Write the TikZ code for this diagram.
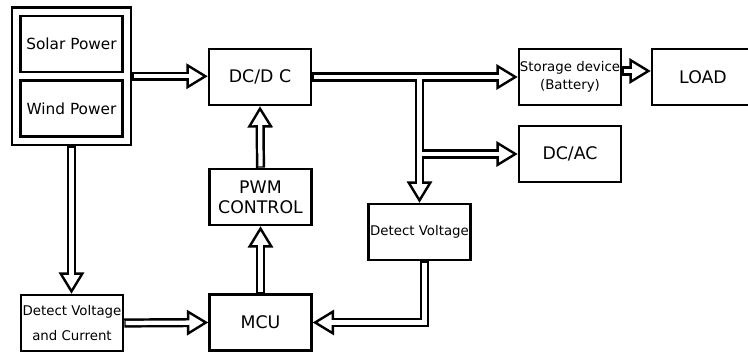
\documentclass[tikz,border=0pt]{standalone}
\usepackage{fontspec}
\setmainfont{DejaVu Sans}
\usetikzlibrary{arrows.meta,positioning,calc,fit}

\begin{document}
\begin{tikzpicture}[
    x=0.75pt, y=-0.75pt,
    block/.style={rectangle, draw, line width=1.9pt, minimum width=76.5pt, minimum height=42pt, inner sep=0pt, align=center, font=\fontsize{13}{15}\selectfont},
    small/.style={block, font=\fontsize{10}{13.5}\selectfont},
    src/.style={block, font=\fontsize{11.5}{13.5}\selectfont},
    pipe/.style={draw, line width=6.9pt, -{Triangle[open, length=16pt, width=19pt, line width=1.8pt]}},
    pipein/.style={draw=white, line width=3.2pt, shorten <=1.1pt, shorten >=12pt}
]
\clip (0,0) rectangle (748,352);

% Sources
\node[src] (solar) at (71.5,44) {Solar Power};
\node[src] (wind) at (71.5,108.5) {Wind Power};
\node[draw, line width=1.9pt, inner sep=5.5pt, fit=(solar)(wind)] (source) {};

% Power path
\node[block] (dcdc) at (260,77) {DC/D C};
\node[small] (store) at (570,77) {Storage device\\(Battery)};
\node[block] (load) at (703,77) {LOAD};
\node[block] (dcac) at (570,154) {DC/AC};

% Control path
\node[block] (pwm) at (260.5,197) {PWM\\CONTROL};
\node[block] (mcu) at (260.5,322.5) {MCU};
\node[small] (dv) at (419.5,232) {Detect Voltage};
\node[small, font=\fontsize{10}{18.75}\selectfont] (dvc) at (72,323) {Detect Voltage\\and Current};

% Branch points
\coordinate (j1) at (dv.north |- dcdc.east);
\coordinate (j2) at (j1 |- dcac.west);

% Arrows: outline first, then the hollow inside
\foreach \pass in {pipe,pipein}{
  \draw[\pass] (source.east) -- (source.east -| dcdc.west);
  \draw[\pass] (dcdc.east) -- (store.west);
  \draw[\pass] (j1) -- (dv.north);
  \draw[\pass] (j2) -- (dcac.west);
  \draw[\pass] ([yshift=4.5pt]store.east) -- ([yshift=4.5pt]load.west);
  \draw[\pass] (pwm.north) -- (dcdc.south);
  \draw[\pass] (mcu.north) -- (pwm.south);
  \draw[\pass] (source.south) -- (source.south |- dvc.north);
  \draw[\pass] (dvc.east) -- (mcu.west);
  \draw[\pass] ([xshift=3.75pt]dv.south) |- (mcu.east);
}

\end{tikzpicture}
\end{document}
